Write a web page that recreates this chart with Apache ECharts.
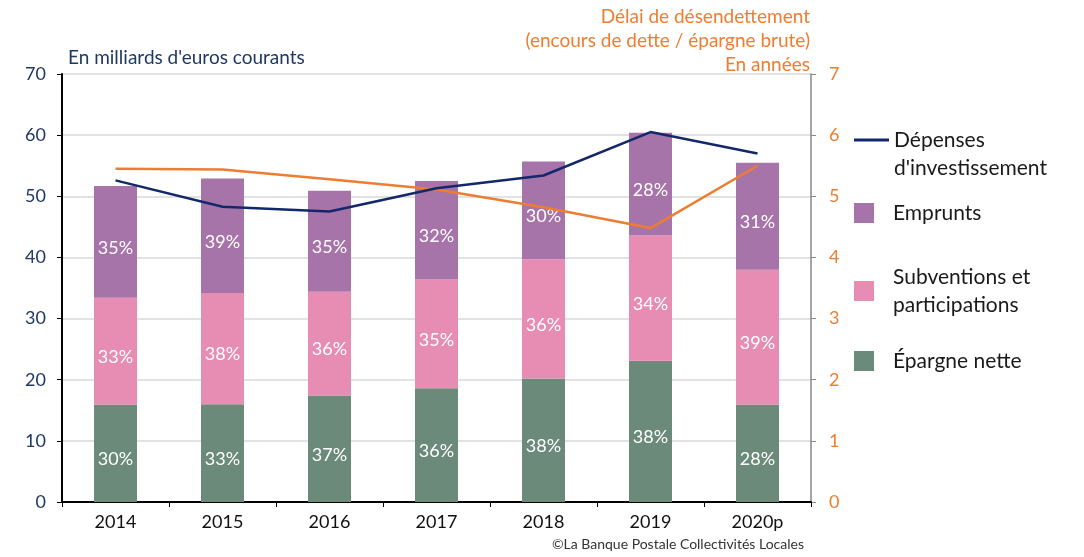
<!DOCTYPE html>
<html>
<head>
<meta charset="utf-8">
<script src="https://cdn.jsdelivr.net/npm/echarts@6/dist/echarts.min.js"></script>
<style>
  html, body { margin: 0; padding: 0; background: #fff; }
  #chart { width: 1084px; height: 557px; }
</style>
</head>
<body>
<div id="chart"></div>
<script>
// années
const years = ['2014', '2015', '2016', '2017', '2018', '2019', '2020p'];
// financement des investissements, en milliards d'euros
const epargneNette = [15.9, 16.0, 17.4, 18.6, 20.2, 23.1, 15.9];
const subventions = [17.5, 18.2, 17.0, 17.8, 19.5, 20.5, 22.1];
const emprunts = [18.3, 18.7, 16.5, 16.1, 16.0, 16.8, 17.5];
// parts affichées dans les barres
const epargnePct = ['30%', '33%', '37%', '36%', '38%', '38%', '28%'];
const subventionsPct = ['33%', '38%', '36%', '35%', '36%', '34%', '39%'];
const empruntsPct = ['35%', '39%', '35%', '32%', '30%', '28%', '31%'];
// lignes
const depenses = [52.6, 48.3, 47.5, 51.3, 53.4, 60.5, 57.0];
const delai = [5.45, 5.44, 5.28, 5.11, 4.82, 4.48, 5.50];

const FONT = 'Lato';
const NAVY = '#13286b';
const ORANGE = '#ed7d31';

const chart = echarts.init(document.getElementById('chart'));

function barLabel(pcts) {
  return {
    show: true,
    position: 'inside',
    offset: [0, 6],
    color: '#fff',
    fontSize: 18,
    fontFamily: FONT,
    formatter: p => pcts[p.dataIndex]
  };
}

const legendText = {
  fontSize: 21,
  lineHeight: 28,
  color: '#1a1a1a',
  fontFamily: FONT
};

// titre de l'axe de droite, une ligne par titre pour garder l'alignement à droite
const rightTitle = ['Délai de désendettement', '(encours de dette / épargne brute)', 'En années'];

const option = {
  animation: false,
  title: [
    {
      text: "En milliards d'euros courants",
      left: 63, top: 43,
      textStyle: { fontSize: 19, fontWeight: 'normal', color: '#1f3864', fontFamily: FONT }
    },
    ...rightTitle.map((t, i) => ({
      text: t,
      right: 269, top: 2 + i * 24,
      textStyle: { fontSize: 19, fontWeight: 'normal', color: ORANGE, fontFamily: FONT }
    })),
    {
      text: '©La Banque Postale Collectivités Locales',
      right: 275, top: 532,
      textStyle: { fontSize: 14, fontWeight: 'normal', color: '#333', fontFamily: FONT }
    }
  ],
  legend: [
    {
      data: ["Dépenses d'investissement"],
      left: 854, top: 98, padding: 0,
      icon: 'rect', itemWidth: 35, itemHeight: 3, itemGap: 0,
      selectedMode: false,
      // ligne vide en tête pour caler le trait sur la première ligne du texte
      formatter: () => " \nDépenses\nd'investissement",
      textStyle: Object.assign({ padding: [0, 0, 0, 0] }, legendText)
    },
    {
      data: ['Emprunts'],
      left: 854, top: 199, padding: 0,
      icon: 'rect', itemWidth: 20, itemHeight: 20,
      selectedMode: false,
      textStyle: Object.assign({ padding: [0, 0, 0, 14] }, legendText)
    },
    {
      data: ['Subventions et participations'],
      left: 854, top: 263, padding: 0,
      icon: 'rect', itemWidth: 20, itemHeight: 20,
      selectedMode: false,
      formatter: () => 'Subventions et\nparticipations',
      textStyle: Object.assign({ padding: [0, 0, 0, 14] }, legendText)
    },
    {
      data: ['Épargne nette'],
      left: 854, top: 347, padding: 0,
      icon: 'rect', itemWidth: 20, itemHeight: 20,
      selectedMode: false,
      textStyle: Object.assign({ padding: [0, 0, 0, 14] }, legendText)
    }
  ],
  grid: { left: 62, right: 273, top: 74, bottom: 55, containLabel: false },
  xAxis: {
    type: 'category',
    data: years,
    axisLine: { lineStyle: { color: '#000', width: 2 } },
    axisTick: { show: true, alignWithLabel: false, length: 5, lineStyle: { color: '#000' } },
    axisLabel: { color: '#111', fontSize: 18, fontFamily: FONT, margin: 11 }
  },
  yAxis: [
    {
      type: 'value',
      min: 0, max: 70, interval: 10,
      axisLine: { show: true, lineStyle: { color: '#000', width: 2 } },
      axisTick: { show: true, length: 5, lineStyle: { color: '#000' } },
      axisLabel: { color: '#1f3864', fontSize: 18, fontFamily: FONT, margin: 16 },
      splitLine: { lineStyle: { color: '#d9d9d9', width: 1.5 } }
    },
    {
      type: 'value',
      min: 0, max: 7, interval: 1,
      position: 'right',
      axisLine: { show: true, lineStyle: { color: '#888', width: 1.5 } },
      axisTick: { show: true, length: 5, lineStyle: { color: '#888' } },
      axisLabel: { color: ORANGE, fontSize: 18, fontFamily: FONT, margin: 18 },
      splitLine: { show: false }
    }
  ],
  series: [
    {
      name: 'Épargne nette',
      type: 'bar', stack: 'fin', barWidth: 43,
      data: epargneNette,
      itemStyle: { color: '#6b8a7a' },
      label: barLabel(epargnePct)
    },
    {
      name: 'Subventions et participations',
      type: 'bar', stack: 'fin',
      data: subventions,
      itemStyle: { color: '#e78db3' },
      label: barLabel(subventionsPct)
    },
    {
      name: 'Emprunts',
      type: 'bar', stack: 'fin',
      data: emprunts,
      itemStyle: { color: '#a774a9' },
      label: barLabel(empruntsPct)
    },
    {
      name: "Dépenses d'investissement",
      type: 'line',
      data: depenses,
      symbol: 'none',
      itemStyle: { color: NAVY },
      lineStyle: { color: NAVY, width: 2.5 },
      z: 5
    },
    {
      name: 'Délai de désendettement',
      type: 'line',
      yAxisIndex: 1,
      data: delai,
      symbol: 'none',
      itemStyle: { color: ORANGE },
      lineStyle: { color: ORANGE, width: 2.5 },
      z: 4
    }
  ]
};

chart.setOption(option);
</script>
</body>
</html>
